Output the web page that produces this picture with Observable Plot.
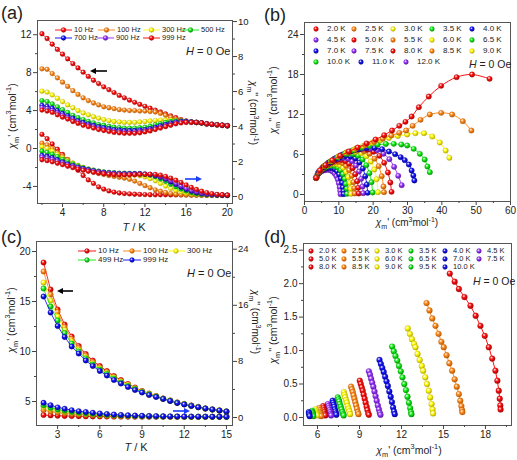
<!DOCTYPE html>
<html><head><meta charset="utf-8">
<script src="https://cdn.jsdelivr.net/npm/d3@7"></script>
<script src="https://cdn.jsdelivr.net/npm/@observablehq/plot@0.6"></script>
<style>
body{margin:0;background:#fff;}
#fig{position:relative;width:517px;height:460px;overflow:hidden;background:#fff;font-family:"Liberation Sans",Arial,Helvetica,sans-serif;color:#222;}
.t{position:absolute;white-space:nowrap;line-height:1;}
.t sub,.t sup{font-size:70%;line-height:0;}
</style></head>
<body><div id="fig"></div>
<script>
// ---------------- DATA ----------------
// panel (a): T (K) and ac susceptibility at 7 frequencies
const aT = [2,2.5,3,3.5,4,4.5,5,5.5,6,6.5,7,7.5,8,8.5,9,9.5,10,10.5,11,11.5,12,12.5,13,13.5,14,14.5,15,15.5,16,16.5,17,17.5,18,18.5,19,19.5,20];
const aFreqs = ["10 Hz","100 Hz","300 Hz","500 Hz","700 Hz","900 Hz","999 Hz"];
const aColors = ["red","orange","yellow","green","blue","violet","red"];
const a1_10  = [12.1,11.6,11.0,10.45,9.95,9.45,8.95,8.5,8.05,7.6,7.2,6.85,6.5,6.2,5.9,5.6,5.35,5.1,4.87,4.65,4.45,4.25,4.05,3.85,3.65,3.45,3.25,3.05,2.9,2.8,2.75,2.7,2.6,2.55,2.5,2.45,2.4];
const a1_100 = [8.4,8.35,7.9,7.45,7.0,6.55,6.1,5.7,5.35,5.05,4.8,4.6,4.4,4.3,4.2,4.1,4.05,4.0,4.0,3.95,3.95,3.9,3.85,3.7,3.5,3.3,3.1,2.95,2.85,2.8,2.75,2.7,2.6,2.55,2.5,2.45,2.4];
const a1_300 = [6.05,5.95,5.65,5.3,4.95,4.6,4.3,4.0,3.75,3.55,3.35,3.2,3.05,2.95,2.85,2.8,2.75,2.75,2.75,2.8,2.85,2.9,2.95,3.0,3.0,3.0,2.95,2.9,2.85,2.8,2.75,2.7,2.6,2.55,2.5,2.45,2.4];
const a1_500 = [5.05,4.95,4.7,4.4,4.1,3.8,3.5,3.25,3.05,2.85,2.7,2.55,2.45,2.35,2.25,2.2,2.15,2.15,2.15,2.2,2.25,2.35,2.5,2.6,2.75,2.85,2.9,2.9,2.85,2.8,2.75,2.7,2.6,2.55,2.5,2.45,2.4];
const a1_700 = [4.55,4.45,4.25,4.0,3.7,3.45,3.2,2.95,2.75,2.6,2.45,2.3,2.2,2.1,2.0,1.95,1.9,1.9,1.9,1.95,2.0,2.1,2.25,2.4,2.55,2.7,2.8,2.85,2.85,2.8,2.75,2.7,2.6,2.55,2.5,2.45,2.4];
const a1_900 = [4.3,4.2,4.0,3.75,3.5,3.25,3.0,2.8,2.6,2.45,2.3,2.15,2.05,1.95,1.85,1.8,1.75,1.75,1.75,1.8,1.85,1.95,2.1,2.25,2.4,2.55,2.7,2.8,2.8,2.8,2.75,2.7,2.6,2.55,2.5,2.45,2.4];
const a1_999 = [4.05,3.95,3.8,3.55,3.3,3.1,2.85,2.65,2.45,2.3,2.15,2.0,1.9,1.8,1.7,1.65,1.6,1.6,1.6,1.65,1.75,1.85,2.0,2.15,2.3,2.45,2.6,2.7,2.75,2.75,2.75,2.7,2.6,2.55,2.5,2.45,2.4];
const a2_10  = [3.55,3.3,3.0,2.7,2.4,2.1,1.8,1.5,1.2,0.95,0.75,0.55,0.42,0.32,0.25,0.2,0.17,0.15,0.13,0.12,0.11,0.1,0.1,0.1,0.1,0.09,0.09,0.09,0.09,0.09,0.08,0.08,0.08,0.08,0.08,0.08,0.08];
const a2_100 = [3.05,2.95,2.75,2.5,2.3,2.1,1.9,1.75,1.6,1.5,1.4,1.32,1.26,1.2,1.15,1.1,1.05,0.98,0.88,0.75,0.62,0.5,0.38,0.3,0.23,0.17,0.13,0.1,0.08,0.07,0.07,0.06,0.06,0.06,0.06,0.06,0.06];
const a2_300 = [2.85,2.75,2.6,2.4,2.2,2.05,1.9,1.78,1.67,1.57,1.5,1.43,1.38,1.34,1.3,1.28,1.26,1.24,1.22,1.18,1.12,1.02,0.9,0.75,0.6,0.46,0.35,0.26,0.19,0.14,0.11,0.09,0.08,0.07,0.07,0.06,0.06];
const a2_500 = [2.6,2.52,2.42,2.28,2.12,1.98,1.86,1.75,1.65,1.57,1.5,1.45,1.41,1.38,1.36,1.34,1.33,1.32,1.31,1.3,1.27,1.22,1.13,1.0,0.86,0.7,0.55,0.42,0.31,0.22,0.16,0.12,0.1,0.08,0.07,0.07,0.06];
const a2_700 = [2.35,2.3,2.22,2.1,1.98,1.87,1.77,1.68,1.6,1.53,1.47,1.42,1.38,1.35,1.33,1.31,1.3,1.3,1.3,1.3,1.28,1.25,1.19,1.1,0.98,0.83,0.68,0.53,0.4,0.3,0.22,0.16,0.12,0.1,0.08,0.07,0.07];
const a2_900 = [2.25,2.2,2.12,2.02,1.92,1.82,1.73,1.65,1.57,1.5,1.45,1.4,1.36,1.33,1.31,1.3,1.29,1.29,1.29,1.29,1.28,1.26,1.21,1.13,1.03,0.9,0.75,0.6,0.46,0.35,0.26,0.19,0.14,0.11,0.09,0.08,0.07];
const a2_999 = [2.1,2.05,1.98,1.9,1.82,1.73,1.65,1.57,1.5,1.44,1.38,1.34,1.3,1.27,1.25,1.24,1.24,1.24,1.25,1.26,1.27,1.27,1.26,1.22,1.15,1.05,0.93,0.8,0.66,0.52,0.4,0.3,0.22,0.16,0.12,0.1,0.08];
const aChi1 = [a1_10,a1_100,a1_300,a1_500,a1_700,a1_900,a1_999];
const aChi2 = [a2_10,a2_100,a2_300,a2_500,a2_700,a2_900,a2_999];

// panel (b): Cole-Cole points [chi', chi''] per temperature
const bTemps = ["2.0 K","2.5 K","3.0 K","3.5 K","4.0 K","4.5 K","5.0 K","5.5 K","6.0 K","6.5 K","7.0 K","7.5 K","8.0 K","8.5 K","9.0 K","10.0 K","11.0 K","12.0 K"];
const bColors = ["red","orange","yellow","green","blue","violet","red","orange","yellow","green","blue","violet","red","orange","yellow","green","blue","violet"];
const b20 = [[3.4,2.5],[4.5,3.6],[6.1,4.4],[8.1,5.12],[10.4,5.8],[12.9,6.45],[15.5,7.05],[18.1,7.65],[20.7,8.25],[23.2,8.9],[25.5,9.6],[27.6,10.3],[29.4,10.9],[31.2,11.7],[33.3,13.1],[36.2,14.7],[39.8,16.3],[44.3,17.6],[48.8,18.0],[53.9,17.35]];
const b25 = [[3.4,2.5],[4.5,3.58],[6.0,4.35],[8.0,5.08],[10.2,5.75],[12.6,6.37],[15.1,6.92],[17.7,7.42],[20.3,7.9],[22.8,8.38],[25.3,8.85],[27.6,9.25],[29.6,9.6],[31.5,10.3],[33.8,11.2],[36.5,12.0],[39.8,12.25],[43.0,12.0],[46.1,11.0],[48.6,9.6]];
const b30 = [[3.4,2.5],[4.4,3.55],[5.9,4.3],[7.8,5.02],[9.9,5.68],[12.2,6.28],[14.6,6.8],[17.1,7.28],[19.6,7.72],[22.1,8.12],[24.6,8.48],[27.2,8.78],[29.9,9.0],[32.3,9.2],[34.8,9.2],[37.2,8.7],[39.4,7.8],[41.1,6.6],[42.2,5.5]];
const b35 = [[3.4,2.5],[4.4,3.52],[5.8,4.25],[7.6,4.95],[9.6,5.58],[11.8,6.15],[14.1,6.63],[16.5,7.0],[18.9,7.28],[21.3,7.48],[23.7,7.58],[26.0,7.6],[28.2,7.5],[29.9,7.35],[31.8,6.85],[33.6,6.1],[35.0,5.25],[35.8,4.2],[36.5,3.35]];
const b40 = [[3.4,2.5],[4.3,3.48],[5.6,4.18],[7.3,4.86],[9.2,5.47],[11.3,6.02],[13.5,6.47],[15.8,6.8],[18.1,6.98],[20.4,6.98],[22.6,6.8],[24.6,6.45],[26.4,6.05],[28.0,5.6],[29.2,5.15],[30.4,4.5],[31.2,3.6],[31.7,2.85],[32.0,2.1]];
const b45 = [[3.4,2.5],[4.3,3.45],[5.5,4.13],[7.1,4.8],[8.9,5.4],[10.8,5.93],[12.8,6.38],[14.9,6.7],[17.0,6.87],[19.1,6.85],[21.1,6.62],[23.0,6.12],[24.7,5.3],[26.1,4.15],[27.3,2.8],[28.3,1.4]];
const b50 = [[3.4,2.5],[4.2,3.4],[5.4,4.08],[6.9,4.74],[8.6,5.33],[10.4,5.85],[12.3,6.3],[14.3,6.63],[16.3,6.78],[18.3,6.72],[20.1,6.42],[21.8,5.8],[23.2,4.75],[24.3,3.3],[25.0,1.8],[25.35,0.4]];
const b55 = [[3.4,2.5],[4.2,3.37],[5.3,4.03],[6.8,4.68],[8.4,5.25],[10.1,5.75],[11.9,6.18],[13.7,6.5],[15.5,6.62],[17.3,6.5],[18.9,6.12],[20.4,5.38],[21.6,4.25],[22.5,2.75],[23.0,1.2],[23.15,0.35]];
const b60 = [[3.4,2.5],[4.1,3.33],[5.2,3.98],[6.6,4.6],[8.1,5.13],[9.7,5.62],[11.4,6.03],[13.1,6.32],[14.8,6.38],[16.5,6.2],[18.0,5.75],[19.3,4.95],[20.3,3.75],[21.0,2.3],[21.4,0.35]];
const b65 = [[3.4,2.5],[4.1,3.3],[5.1,3.92],[6.4,4.5],[7.8,5.0],[9.3,5.45],[10.9,5.83],[12.5,6.07],[14.1,6.05],[15.6,5.8],[16.9,5.25],[18.0,4.4],[18.9,3.2],[19.5,1.85],[19.85,0.3]];
const b70 = [[3.4,2.5],[4.1,3.28],[5.0,3.85],[6.2,4.38],[7.5,4.85],[8.9,5.27],[10.4,5.6],[11.9,5.78],[13.4,5.7],[14.8,5.4],[16.0,4.8],[17.0,3.9],[17.7,2.75],[18.15,1.5],[18.4,0.25]];
const b75 = [[3.4,2.5],[4.0,3.22],[4.9,3.78],[6.0,4.27],[7.2,4.7],[8.5,5.07],[9.9,5.37],[11.3,5.48],[12.7,5.35],[13.9,5.0],[15.0,4.35],[15.9,3.45],[16.5,2.35],[16.9,1.2],[17.1,0.2]];
const b80 = [[3.4,2.5],[4.0,3.18],[4.8,3.7],[5.8,4.15],[6.9,4.55],[8.1,4.88],[9.4,5.13],[10.7,5.18],[11.9,5.0],[13.0,4.6],[14.0,3.95],[14.8,3.05],[15.35,2.0],[15.65,1.0],[15.8,0.15]];
const b85 = [[3.4,2.5],[3.9,3.12],[4.7,3.62],[5.6,4.03],[6.6,4.37],[7.7,4.65],[8.9,4.88],[10.0,4.88],[11.1,4.7],[12.1,4.3],[13.0,3.65],[13.75,2.8],[14.25,1.85],[14.5,0.95],[14.6,0.15]];
const b90 = [[3.4,2.5],[3.9,3.1],[4.6,3.55],[5.4,3.92],[6.3,4.22],[7.3,4.45],[8.4,4.6],[9.4,4.57],[10.4,4.38],[11.3,4.0],[12.1,3.4],[12.75,2.6],[13.2,1.75],[13.45,0.85],[13.55,0.1]];
const b100 = [[3.4,2.5],[3.85,3.05],[4.5,3.45],[5.2,3.78],[6.0,4.03],[6.9,4.22],[7.9,4.3],[8.8,4.25],[9.7,4.05],[10.5,3.65],[11.2,3.05],[11.7,2.35],[12.05,1.6],[12.3,0.85],[12.4,0.1]];
const b110 = [[3.4,2.5],[3.8,3.0],[4.4,3.35],[5.0,3.62],[5.7,3.82],[6.5,3.95],[7.3,4.0],[8.1,3.95],[8.8,3.78],[9.5,3.48],[10.1,3.0],[10.6,2.4],[10.95,1.75],[11.2,1.05],[11.35,0.5],[11.4,0.05]];
const b120 = [[3.4,2.5],[3.8,2.95],[4.3,3.25],[4.9,3.47],[5.5,3.6],[6.2,3.68],[6.9,3.7],[7.6,3.62],[8.2,3.45],[8.8,3.15],[9.3,2.75],[9.7,2.25],[10.0,1.7],[10.25,1.1],[10.4,0.55],[10.5,0.05]];
const bSeries = [b20,b25,b30,b35,b40,b45,b50,b55,b60,b65,b70,b75,b80,b85,b90,b100,b110,b120];

// panel (c)
const cT = [2,2.5,3,3.5,4,4.5,5,5.5,6,6.5,7,7.5,8,8.5,9,9.5,10,10.5,11,11.5,12,12.5,13,13.5,14,14.5,15];
const cFreqs = ["10 Hz","100 Hz","300 Hz","499 Hz","999 Hz"];
const cColors = ["red","orange","yellow","green","blue"];
const c1_10  = [18.9,16.2,14.2,12.7,11.5,10.55,9.75,9.1,8.55,8.05,7.55,7.15,6.75,6.4,6.05,5.8,5.55,5.3,5.1,4.9,4.75,4.6,4.45,4.3,4.2,4.1,4.0];
const c1_100 = [18.0,15.7,13.95,12.45,11.25,10.35,9.6,8.95,8.4,7.95,7.45,7.05,6.7,6.35,6.03,5.78,5.53,5.3,5.1,4.9,4.75,4.6,4.45,4.3,4.2,4.1,4.0];
const c1_300 = [16.9,15.1,13.5,12.15,11.0,10.15,9.4,8.8,8.3,7.85,7.4,7.0,6.65,6.3,6.0,5.75,5.52,5.28,5.08,4.88,4.73,4.58,4.44,4.3,4.2,4.1,4.0];
const c1_499 = [16.3,14.5,13.1,11.85,10.8,10.0,9.3,8.7,8.2,7.75,7.3,6.9,6.55,6.25,5.95,5.72,5.5,5.27,5.07,4.87,4.72,4.57,4.43,4.3,4.2,4.1,4.0];
const c1_999 = [15.5,13.9,12.55,11.45,10.5,9.8,9.1,8.55,8.05,7.6,7.15,6.8,6.45,6.15,5.9,5.65,5.45,5.25,5.05,4.85,4.7,4.55,4.42,4.3,4.2,4.1,4.0];
const c2_10  = [0.35,0.3,0.25,0.22,0.2,0.18,0.16,0.15,0.14,0.13,0.12,0.12,0.11,0.11,0.1,0.1,0.1,0.1,0.1,0.1,0.1,0.1,0.1,0.1,0.1,0.1,0.1];
const c2_100 = [1.05,0.85,0.7,0.58,0.5,0.43,0.37,0.32,0.28,0.25,0.22,0.2,0.18,0.17,0.16,0.15,0.14,0.13,0.12,0.12,0.11,0.11,0.11,0.1,0.1,0.1,0.1];
const c2_300 = [1.5,1.2,0.98,0.82,0.7,0.6,0.52,0.45,0.39,0.34,0.3,0.26,0.23,0.21,0.19,0.17,0.16,0.15,0.14,0.13,0.12,0.12,0.11,0.11,0.1,0.1,0.1];
const c2_499 = [1.75,1.4,1.15,0.97,0.82,0.7,0.6,0.52,0.45,0.39,0.34,0.3,0.26,0.23,0.2,0.18,0.16,0.15,0.14,0.13,0.12,0.12,0.11,0.11,0.1,0.1,0.1];
const c2_999 = [2.1,1.75,1.45,1.25,1.05,0.9,0.78,0.68,0.58,0.5,0.43,0.37,0.32,0.28,0.25,0.22,0.2,0.18,0.16,0.15,0.14,0.13,0.12,0.12,0.11,0.11,0.1];
const cChi1 = [c1_10,c1_100,c1_300,c1_499,c1_999];
const cChi2 = [c2_10,c2_100,c2_300,c2_499,c2_999];

// panel (d): Cole-Cole points [chi', chi'']
const dTemps = ["2.0 K","2.5 K","3.0 K","3.5 K","4.0 K","4.5 K","5.0 K","5.5 K","6.0 K","6.5 K","7.0 K","7.5 K","8.0 K","8.5 K","9.0 K","9.5 K","10.0 K"];
const dColors = ["red","orange","yellow","green","blue","violet","red","orange","yellow","green","blue","violet","red","orange","yellow","green","blue"];
const d20 = [[15.45,2.15],[15.8,2.03],[16.1,1.92],[16.5,1.8],[16.93,1.67],[17.3,1.52],[17.64,1.37],[17.95,1.22],[18.24,1.05],[18.48,0.88],[18.71,0.7],[18.85,0.55],[18.95,0.4],[19.02,0.28],[19.06,0.18],[19.08,0.12]];
const d25 = [[13.79,1.71],[14.0,1.6],[14.2,1.48],[14.43,1.37],[14.65,1.25],[14.85,1.13],[15.02,1.05],[15.22,0.93],[15.42,0.81],[15.62,0.7],[15.8,0.57],[15.95,0.46],[16.1,0.35],[16.2,0.25],[16.28,0.17],[16.33,0.11],[16.35,0.08]];
const d30 = [[12.45,1.33],[12.6,1.25],[12.75,1.17],[12.9,1.1],[13.0,1.05],[13.15,0.95],[13.3,0.86],[13.45,0.77],[13.55,0.7],[13.7,0.6],[13.82,0.5],[13.95,0.4],[14.05,0.3],[14.15,0.2],[14.22,0.12],[14.26,0.06]];
const d35 = [[11.33,1.06],[11.45,0.99],[11.57,0.92],[11.7,0.85],[11.82,0.77],[11.95,0.69],[12.07,0.6],[12.2,0.5],[12.32,0.41],[12.43,0.31],[12.53,0.22],[12.62,0.14],[12.68,0.08],[12.71,0.05]];
const d40 = [[10.43,0.86],[10.53,0.8],[10.63,0.74],[10.73,0.68],[10.83,0.61],[10.93,0.54],[11.03,0.47],[11.13,0.39],[11.23,0.31],[11.32,0.23],[11.4,0.15],[11.47,0.09],[11.52,0.05]];
const d45 = [[9.67,0.69],[9.75,0.64],[9.83,0.58],[9.91,0.52],[9.99,0.46],[10.07,0.39],[10.15,0.32],[10.23,0.25],[10.31,0.18],[10.39,0.12],[10.45,0.07],[10.5,0.04]];
const d50 = [[9.02,0.55],[9.09,0.5],[9.16,0.45],[9.23,0.4],[9.3,0.34],[9.37,0.28],[9.44,0.22],[9.51,0.16],[9.57,0.11],[9.63,0.06],[9.67,0.04]];
const d55 = [[8.4,0.46],[8.46,0.42],[8.52,0.38],[8.58,0.33],[8.64,0.28],[8.7,0.23],[8.76,0.18],[8.82,0.13],[8.88,0.08],[8.93,0.05]];
const d60 = [[7.88,0.38],[7.93,0.34],[7.98,0.3],[8.04,0.26],[8.1,0.22],[8.16,0.17],[8.22,0.13],[8.28,0.09],[8.33,0.05]];
const d65 = [[7.45,0.3],[7.5,0.27],[7.55,0.24],[7.6,0.2],[7.66,0.16],[7.72,0.12],[7.78,0.08],[7.84,0.05],[7.87,0.03]];
const d70 = [[7.08,0.25],[7.12,0.22],[7.16,0.19],[7.2,0.16],[7.24,0.12],[7.28,0.09],[7.32,0.06],[7.35,0.04]];
const d75 = [[6.74,0.2],[6.78,0.17],[6.82,0.14],[6.86,0.11],[6.9,0.08],[6.94,0.05],[6.97,0.03]];
const d80 = [[6.4,0.17],[6.43,0.14],[6.46,0.11],[6.5,0.08],[6.53,0.05],[6.56,0.03]];
const d85 = [[6.12,0.14],[6.15,0.11],[6.18,0.08],[6.21,0.06],[6.24,0.04],[6.26,0.02]];
const d90 = [[5.86,0.12],[5.89,0.09],[5.92,0.07],[5.95,0.05],[5.97,0.03]];
const d95 = [[5.62,0.1],[5.64,0.08],[5.66,0.06],[5.68,0.04],[5.7,0.02]];
const d100 = [[5.38,0.08],[5.4,0.06],[5.42,0.04],[5.44,0.02]];
const dSeries = [d20,d25,d30,d35,d40,d45,d50,d55,d60,d65,d70,d75,d80,d85,d90,d95,d100];

// ---------------- DRAWING ----------------
const FONT = '"Liberation Sans", Arial, Helvetica, sans-serif';
const PAL = {
  red: ["#ff1212", "#a00000"],
  orange: ["#ff8a1c", "#b05400"],
  yellow: ["#ffff10", "#b0a000"],
  green: ["#18f018", "#008a08"],
  blue: ["#1818ff", "#000088"],
  violet: ["#9c3cff", "#54109c"]
};
const fig = document.getElementById("fig");
fig.insertAdjacentHTML("beforeend",
  `<svg width="0" height="0" style="position:absolute"><defs>${Object.entries(PAL).map(([k,[c,d]]) =>
    `<radialGradient id="g-${k}" cx="0.38" cy="0.34" r="0.72"><stop offset="0" stop-color="#ffffff"/><stop offset="0.38" stop-color="${c}"/><stop offset="1" stop-color="${d}"/></radialGradient>`).join("")}</defs></svg>`);

const fmt = d => String(d);
function axes({xT, xM, yT, yM, yAnchor = "left", yFmt = fmt, showX = true}) {
  const out = [];
  if (showX) {
    out.push(Plot.axisX({ticks: xT, tickSize: 4, tickPadding: 1.5, tickFormat: fmt, label: null, fontSize: 10, stroke: "#444"}));
    out.push(Plot.axisX({ticks: xM, tickSize: 2, tickFormat: () => "", label: null, stroke: "#444"}));
  }
  out.push(Plot.axisY({anchor: yAnchor, ticks: yT, tickSize: 4, tickPadding: yAnchor === "right" ? 1.5 : 2, tickFormat: yFmt, label: null, fontSize: yAnchor === "right" ? 9.5 : 10, stroke: "#444"}));
  out.push(Plot.axisY({anchor: yAnchor, ticks: yM, tickSize: 2, tickFormat: () => "", label: null, stroke: "#444"}));
  return out;
}
function mk(o) {
  const svg = Plot.plot({
    width: o.w, height: o.h,
    marginLeft: o.ml, marginRight: o.mr, marginTop: o.mt, marginBottom: o.mb,
    x: o.showX === false ? {type: "linear", domain: o.xd, axis: null} : {type: "linear", domain: o.xd},
    y: {type: "linear", domain: o.yd},
    style: {fontFamily: FONT, fontSize: "10px", background: "transparent", overflow: "visible", color: "#222"},
    marks: o.marks
  });
  svg.style.position = "absolute";
  svg.style.left = o.l + "px";
  svg.style.top = o.t + "px";
  fig.appendChild(svg);
}
function series(rows, color, r, lw, curve = "linear") {
  return [
    Plot.line(rows, {x: d => d[0], y: d => d[1], stroke: PAL[color][0], strokeWidth: lw, curve}),
    Plot.dot(rows, {x: d => d[0], y: d => d[1], r, fill: `url(#g-${color})`, stroke: PAL[color][1], strokeWidth: 0.3})
  ];
}
const zip = (xs, ys) => xs.map((x, i) => [x, ys[i]]);

// panel (a)
const A = {l: 0, t: 0, w: 260, h: 230, ml: 37, mr: 28, mt: 20, mb: 27, xd: [1.57, 20.5]};
mk({...A, yd: [-5.8, 13.5], marks: [
  Plot.frame({stroke: "#555"}),
  ...axes({xT: [4,8,12,16,20], xM: [2,6,10,14,18], yT: [-4,0,4,8,12], yM: [-2,2,6,10]}),
  ...aChi1.flatMap((v, i) => series(zip(aT, v), aColors[i], 2.4, 0.9))
]});
mk({...A, showX: false, yd: [-0.4, 10.06], marks: [
  ...axes({yT: [0,2,4,6,8,10], yM: [1,3,5,7,9], yAnchor: "right", showX: false}),
  ...aChi2.flatMap((v, i) => series(zip(aT, v), aColors[i], 2.4, 0.9))
]});

// panel (b)
mk({l: 258, t: 0, w: 259, h: 230, ml: 46, mr: 7, mt: 22, mb: 29, xd: [0, 60], yd: [-1.05, 25.8], marks: [
  Plot.frame({stroke: "#555"}),
  ...axes({xT: [0,10,20,30,40,50,60], xM: [5,15,25,35,45,55], yT: [0,6,12,18,24], yM: [3,9,15,21]}),
  ...bSeries.slice().reverse().flatMap((s, j) => series(s, bColors[bSeries.length - 1 - j], 2.7, 1, "catmull-rom"))
]});

// panel (c)
const C = {l: 0, t: 228, w: 260, h: 232, ml: 36, mr: 28, mt: 13, mb: 35, xd: [1.5, 15.43]};
mk({...C, yd: [2.6, 21], marks: [
  Plot.frame({stroke: "#555"}),
  ...axes({xT: [3,6,9,12,15], xM: [4.5,7.5,10.5,13.5], yT: [5,10,15,20], yM: [7.5,12.5,17.5]}),
  ...cChi1.flatMap((v, i) => series(zip(cT, v), cColors[i], 2.7, 0.9))
]});
mk({...C, showX: false, yd: [-1.14, 25.1], marks: [
  ...axes({yT: [0,8,16,24], yM: [4,12,20], yAnchor: "right", showX: false}),
  ...cChi2.flatMap((v, i) => series(zip(cT, v), cColors[i], 2.7, 0.9))
]});

// panel (d)
mk({l: 258, t: 228, w: 259, h: 232, ml: 45, mr: 6, mt: 15, mb: 35, xd: [5.0, 19.86], yd: [-0.12, 2.6], marks: [
  Plot.frame({stroke: "#555"}),
  ...axes({xT: [6,9,12,15,18], xM: [7.5,10.5,13.5,16.5,19.5], yT: [0,0.5,1,1.5,2,2.5], yM: [0.25,0.75,1.25,1.75,2.25], yFmt: d => d.toFixed(1)}),
  ...dSeries.flatMap((s, i) => series(s, dColors[i], 2.9, 1))
]});

// ---------------- TEXT, LEGENDS, ANNOTATIONS ----------------
function txt(html, x, y, size, opts = {}) {
  const el = document.createElement("div");
  el.className = "t";
  el.innerHTML = html;
  el.style.left = x + "px";
  el.style.top = y + "px";
  el.style.fontSize = size + "px";
  const ax = opts.anchor === "middle" ? "-50%" : "0";
  el.style.transform = `translate(${ax},-50%)` + (opts.rotate ? ` rotate(${opts.rotate}deg)` : "");
  fig.appendChild(el);
}
const lab1 = `<i>χ</i><sub>m</sub>' (cm<sup>3</sup>mol<sup>-1</sup>)`;
const lab2 = `<i>χ</i><sub>m</sub>'' (cm<sup>3</sup>mol<sup>-1</sup>)`;
const hOe = `<i>H</i> = 0 Oe`;

// panel tags
txt("(a)", 1, 13, 18); txt("(b)", 264, 15, 18); txt("(c)", 1, 237, 18); txt("(d)", 264, 237, 18);
// axis titles
txt(`<i>T</i> / K`, 134, 227, 11, {anchor: "middle"});
txt(`<i>T</i> / K`, 136, 447, 11, {anchor: "middle"});
txt(lab1, 407, 223, 10, {anchor: "middle"});
txt(lab1, 409, 450, 10.5, {anchor: "middle"});
txt(lab1, 12, 116, 10.5, {anchor: "middle", rotate: -90});
txt(lab2, 253, 113, 10, {anchor: "middle", rotate: 90});
txt(lab2, 273, 100, 10.5, {anchor: "middle", rotate: -90});
txt(lab1, 11, 320, 10.5, {anchor: "middle", rotate: -90});
txt(lab2, 255, 322, 10, {anchor: "middle", rotate: 90});
txt(lab2, 273, 330, 10.5, {anchor: "middle", rotate: -90});
// H = 0 Oe
txt(hOe, 186, 51, 11); txt(hOe, 469, 64, 10.5); txt(hOe, 187, 273, 11); txt(hOe, 473, 281, 10.5);

// legend swatches
function swatch(x, y, color, withLine, w) {
  const [c] = PAL[color];
  const s = `<svg width="${w}" height="8" style="position:absolute;left:${x}px;top:${y - 4}px;overflow:visible">` +
    (withLine ? `<line x1="0" x2="${w}" y1="4" y2="4" stroke="${c}" stroke-width="1"/>` : "") +
    `<circle cx="${w / 2}" cy="4" r="2.4" fill="url(#g-${color})" stroke="${PAL[color][1]}" stroke-width="0.3"/></svg>`;
  fig.insertAdjacentHTML("beforeend", s);
}
// (a) legend
const aLegPos = [[55,30],[98,30],[143,30],[182,30],[55,38],[97,38],[143,38]];
aFreqs.forEach((f, i) => { const [x, y] = aLegPos[i]; swatch(x, y, aColors[i], true, 17); txt(f, x + 19, y, 7.5); });
// (c) legend
const cLegPos = [[78,251],[123,251],[167,251],[78,260],[123,260]];
cFreqs.forEach((f, i) => { const [x, y] = cLegPos[i]; swatch(x, y, cColors[i], true, 18); txt(f, x + 20, y, 8); });
// (b) legend
const bLegPos = [[316,29],[354,29],[393,29],[432,29],[472,29],[316,39.5],[354,39.5],[393,39.5],[432,39.5],[472,39.5],[316,50.5],[354,50.5],[393,50.5],[432,50.5],[472,50.5],[316,62],[361,62],[406,62]];
bTemps.forEach((t, i) => { const [x, y] = bLegPos[i]; swatch(x - 4, y, bColors[i], false, 8); txt(t, x + 11, y, 8); });
// (d) legend
const dCols = [311,344,377,411,445,479], dRows = [250.7,258.7,266.7];
dTemps.forEach((t, i) => { const x = dCols[i % 6], y = dRows[Math.floor(i / 6)]; swatch(x - 4, y, dColors[i], false, 8); txt(t, x + 8, y, 7.5); });

// arrows
function arrow(x1, x2, y, color) {
  const dir = x2 > x1 ? 1 : -1;
  const l = Math.min(x1, x2) - 1, w = Math.abs(x2 - x1) + 2;
  const hx = x2 - l, bx = hx - dir * 6;
  fig.insertAdjacentHTML("beforeend",
    `<svg width="${w}" height="8" style="position:absolute;left:${l}px;top:${y - 4}px;overflow:visible">` +
    `<line x1="${x1 - l}" x2="${bx}" y1="4" y2="4" stroke="${color}" stroke-width="1.6"/>` +
    `<polygon points="${hx},4 ${bx},1 ${bx},7" fill="${color}"/></svg>`);
}
arrow(107, 90, 71, "#000"); arrow(185, 202, 179, "#1a3cff");
arrow(73, 57, 291, "#000"); arrow(173, 190, 411, "#1a3cff");
</script></body></html>
